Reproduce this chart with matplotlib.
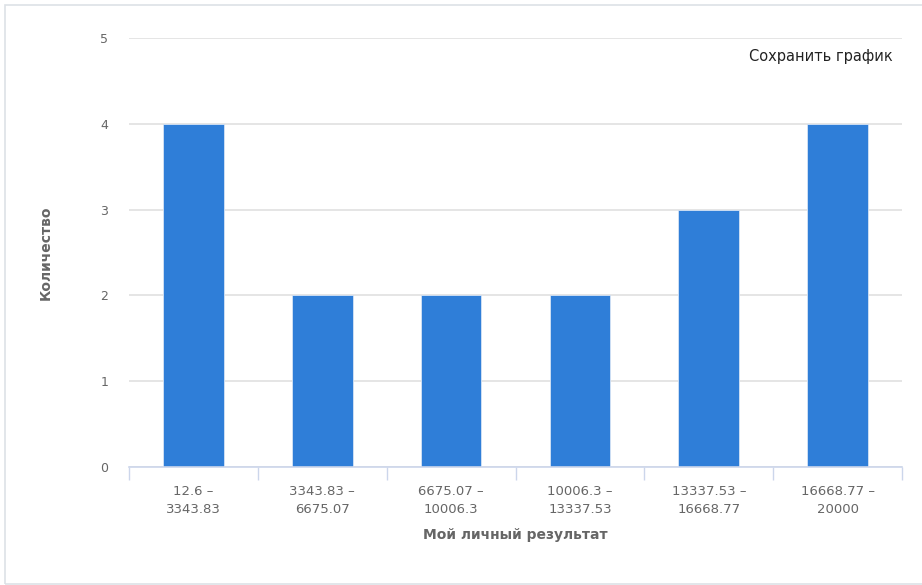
import numpy as np
import matplotlib.pyplot as plt
from matplotlib.patches import Rectangle

# данные
categories = ["12.6 –\n3343.83", "3343.83 –\n6675.07", "6675.07 –\n10006.3",
              "10006.3 –\n13337.53", "13337.53 –\n16668.77", "16668.77 –\n20000"]
counts = [4, 2, 2, 2, 3, 4]
y_ticks = [0, 1, 2, 3, 4, 5]

W, H = 922, 585
fig = plt.figure(figsize=(W / 100, H / 100), dpi=100)
ax = fig.add_axes([129 / W, 1 - 467 / H, (902 - 129) / W, (467 - 38) / H])

# рамка вокруг графика
fig.patches.append(Rectangle((5 / W, 1 / H), 1.2, (583 - 1 - 3) / H,
                             transform=fig.transFigure, fill=False,
                             edgecolor="#dde1e6", linewidth=1.2))

x = np.arange(len(categories))
ax.bar(x, counts, width=0.47, color="#2f7ed8", edgecolor="#d6e4f5", linewidth=0.6, zorder=3)

ax.set_xlim(-0.5, len(categories) - 0.5)
ax.set_ylim(0, 5)
ax.set_yticks(y_ticks)
ax.set_yticklabels([str(v) for v in y_ticks], color="#666666", fontsize=9)
ax.yaxis.grid(True, color="#e3e3e3", linewidth=1.3, zorder=0)
ax.tick_params(axis="y", length=0, pad=15)

ax.set_xticks(x)
ax.set_xticklabels(categories, color="#666666", fontsize=9.5, linespacing=1.45)
ax.set_xticks(np.arange(len(categories) + 1) - 0.5, minor=True)
ax.tick_params(axis="x", which="major", length=0, pad=13)
ax.tick_params(axis="x", which="minor", length=9, color="#ccd6eb", width=1)

for s in ["top", "right", "left"]:
    ax.spines[s].set_visible(False)
ax.spines["bottom"].set_color("#ccd6eb")
ax.spines["bottom"].set_linewidth(1.2)
ax.spines["bottom"].set_zorder(4)

ax.set_xlabel("Мой личный результат", color="#666666", fontsize=10, fontweight="bold", labelpad=9)
ax.set_ylabel("Количество", color="#666666", fontsize=10, fontweight="bold", labelpad=34)

fig.text(893 / W, 1 - 57 / H, "Сохранить график", ha="right", va="center",
         fontsize=10.5, color="#222222")

fig.savefig("out.png", dpi=100)
